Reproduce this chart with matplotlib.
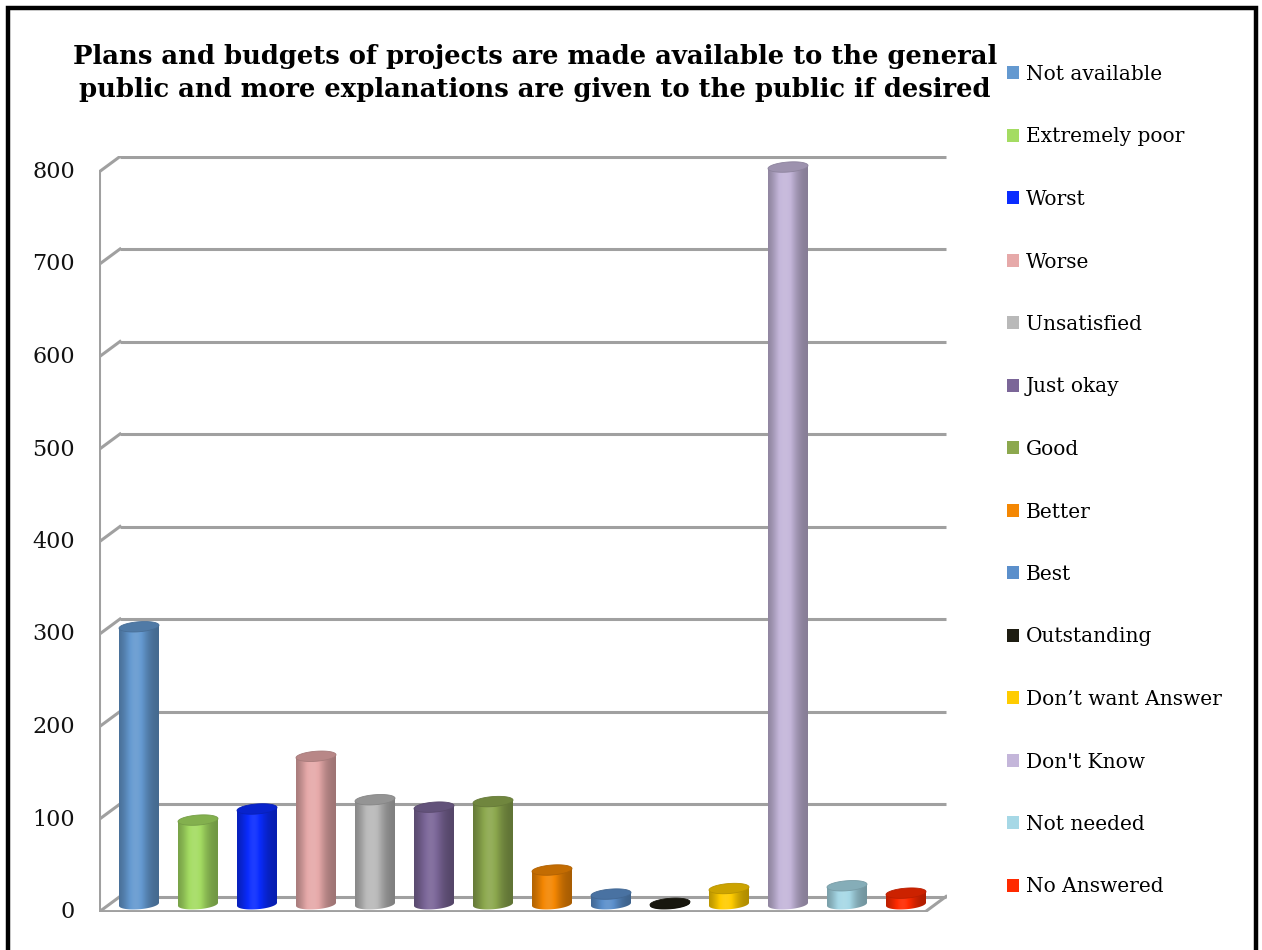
import numpy as np
import matplotlib
matplotlib.use("Agg")
import matplotlib.pyplot as plt
from matplotlib.patches import Polygon, Patch
from matplotlib.lines import Line2D
from matplotlib.colors import to_rgb

# ---- data -------------------------------------------------------------
categories = ["Not available", "Extremely poor", "Worst", "Worse", "Unsatisfied",
              "Just okay", "Good", "Better", "Best", "Outstanding",
              "Don\u2019t want Answer", "Don't Know", "Not needed", "No Answered"]
values = [300, 91, 103, 160, 113, 105, 111, 37, 11, 1, 17, 797, 20, 12]
colors = ["#6499d0", "#a4dc62", "#0a2cff", "#e6a9a9", "#b9b9b9", "#7b6698",
          "#8ca84e", "#f48703", "#5b8fcb", "#1e1d12", "#ffcc00", "#c4b6da",
          "#a6d8e6", "#ff2a00"]
y_ticks = [0, 100, 200, 300, 400, 500, 600, 700, 800]
title = ("Plans and budgets of projects are made available to the general\n"
         "public and more explanations are given to the public if desired")

# ---- figure / axes ----------------------------------------------------
W, H = 1262, 950
fig = plt.figure(figsize=(W / 100, H / 100), dpi=100)
fig.patch.set_facecolor("white")

PX_PER_UNIT = 0.925          # vertical pixels per value unit
SLOT_PX = 59.0               # horizontal pixels per category slot
ax_l, ax_r, ax_b, ax_t = 99, 947, 912, 156
ax = fig.add_axes([ax_l / W, (H - ax_b) / H, (ax_r - ax_l) / W, (ax_b - ax_t) / H])
ax.set_xlim(-0.5, -0.5 + (ax_r - ax_l) / SLOT_PX)
ax.set_ylim(0, (ax_b - ax_t) / PX_PER_UNIT)
ax.axis("off")

# depth of the 3-D box, in data units
DX = 21 / SLOT_PX
DY = 15.5 / PX_PER_UNIT
n = len(categories)
x_front0, x_front1 = -0.5, n - 0.5
grid_c = "#a0a0a0"
grid_lw = 2.2

# back-wall gridlines with their side-wall connectors
for v in y_ticks:
    ax.plot([x_front0 + DX, x_front1 + DX], [v + DY, v + DY], color=grid_c,
            lw=grid_lw, solid_capstyle="butt", zorder=1)
    ax.plot([x_front0, x_front0 + DX], [v, v + DY], color=grid_c, lw=grid_lw, zorder=1)
# front left axis and floor
ax.plot([x_front0, x_front0], [0, y_ticks[-1]], color=grid_c, lw=grid_lw, zorder=1)
ax.plot([x_front0, x_front1], [0, 0], color=grid_c, lw=grid_lw + 0.6, zorder=1)
ax.plot([x_front1, x_front1 + DX], [0, DY], color=grid_c, lw=grid_lw, zorder=1)

# tick labels along the front axis
for v in y_ticks:
    ax.text(x_front0 - 24 / SLOT_PX, v, str(v), ha="right", va="center",
            fontsize=16, family="DejaVu Serif", color="#111111")


def tint(rgb, k):
    rgb = np.asarray(rgb)
    if k < 1:
        return rgb * k
    return rgb + (1 - rgb) * (k - 1)


# cylinders
bar_w = 40 / SLOT_PX
ell_h = 10 / PX_PER_UNIT
tilt = 3 / PX_PER_UNIT       # slight tilt of the elliptical caps
t = np.linspace(0, 1, 96)
profile = 0.68 + 0.40 * np.exp(-((t - 0.42) / 0.30) ** 2)
ang = np.linspace(0, np.pi, 60)

for i, (v, c) in enumerate(zip(values, colors)):
    base = to_rgb(c)
    xc = i + DX / 2
    yb = DY / 2
    yt = yb + v
    x0, x1 = xc - bar_w / 2, xc + bar_w / 2
    a, b = bar_w / 2, ell_h / 2

    # body outline: straight sides + lower half of the base ellipse
    xs_bot = xc - a * np.cos(ang)
    ys_bot = yb - b * np.sin(ang) + tilt * (xs_bot - xc) / bar_w
    body = np.vstack([[x0, yt - tilt / 2], *zip(xs_bot, ys_bot), [x1, yt + tilt / 2]])
    clip = Polygon(body, closed=True, transform=ax.transData)

    img = np.array([[tint(base, k) for k in profile]])
    im = ax.imshow(img, extent=[x0, x1, yb - b - tilt, yt + tilt], aspect="auto",
                   interpolation="bilinear", zorder=3)
    im.set_clip_path(clip)

    # top cap
    full = np.linspace(0, 2 * np.pi, 120)
    xs = xc + a * np.cos(full)
    ys = yt + b * np.sin(full) + tilt * (xs - xc) / bar_w
    cap = Polygon(np.column_stack([xs, ys]), closed=True,
                  facecolor=tint(base, 0.80), edgecolor=tint(base, 0.72),
                  lw=0.6, zorder=4)
    ax.add_patch(cap)

ax.set_xlim(-0.5, -0.5 + (ax_r - ax_l) / SLOT_PX)
ax.set_ylim(0, (ax_b - ax_t) / PX_PER_UNIT)

# title
fig.text(535 / W, 1 - 73 / H, title, ha="center", va="center", fontsize=18.6,
         fontweight="bold", family="DejaVu Serif", linespacing=1.38)

# legend
handles = [Patch(facecolor=c, edgecolor="none") for c in colors]
fig.legend(handles, categories, loc="upper left",
           bbox_to_anchor=(1007 / W, 1 - 65 / H), frameon=False,
           prop={"family": "DejaVu Serif", "size": 14.5},
           handlelength=0.62, handleheight=0.62, handletextpad=0.3,
           labelspacing=2.16, borderaxespad=0, borderpad=0)

# outer frame (left, top, right)
frame_x = [8 / W, 8 / W, 1256 / W, 1256 / W]
frame_y = [0, 1 - 8 / H, 1 - 8 / H, 0]
fig.add_artist(Line2D(frame_x, frame_y, color="black", lw=3.2,
                      transform=fig.transFigure, solid_joinstyle="miter"))

fig.savefig("out.png", dpi=100)
